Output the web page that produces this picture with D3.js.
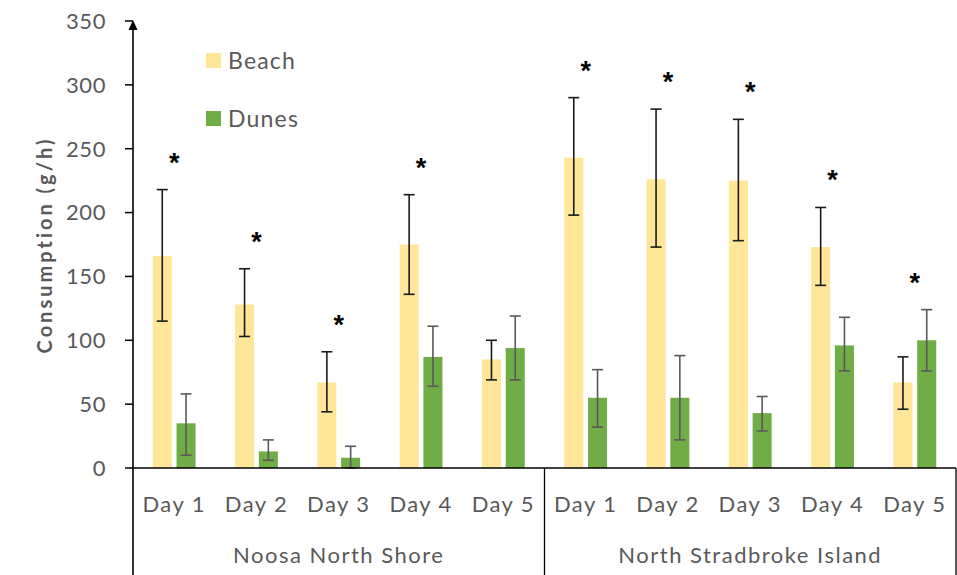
<!DOCTYPE html>
<html>
<head>
<meta charset="utf-8">
<script src="https://cdn.jsdelivr.net/npm/d3@7"></script>
<style>
  body { margin: 0; background: #fff; }
  text { font-family: Lato, "Open Sans", sans-serif; fill: #595959; }
</style>
</head>
<body>
<div id="chart"></div>
<script>
// categories
var sites = ["Noosa North Shore", "North Stradbroke Island"]
var days = ["Day 1", "Day 2", "Day 3", "Day 4", "Day 5"]
var series = ["Beach", "Dunes"]

// mean consumption (g/h), per site then day
var beach = [166, 128, 67, 175, 85, 243, 226, 225, 173, 67]
var dunes = [35, 13, 8, 87, 94, 55, 55, 43, 96, 100]
// error bar ends
var beachHi = [218, 156, 91, 214, 100, 290, 281, 273, 204, 87]
var beachLo = [115, 103, 44, 136, 69, 198, 173, 178, 143, 46]
var dunesHi = [58, 22, 17, 111, 119, 77, 88, 56, 118, 124]
var dunesLo = [10, 6, 0, 64, 69, 32, 22, 29, 76, 76]
// significant difference marker
var signif = [1, 1, 1, 1, 0, 1, 1, 1, 1, 1]

var yTicks = [0, 50, 100, 150, 200, 250, 300, 350]

var width = 957, height = 575
var margin = { top: 21, right: 1, bottom: 107, left: 133 }
var plotW = width - margin.left - margin.right
var plotH = height - margin.top - margin.bottom

var svg = d3.select("#chart")
  .append("svg")
  .attr("width", width)
  .attr("height", height)

var g = svg.append("g")
  .attr("transform", "translate(" + margin.left + "," + margin.top + ")")

// build rows
var rows = []
sites.forEach(function (s, si) {
  days.forEach(function (d, di) {
    var i = si * days.length + di
    rows.push({
      key: s + "|" + d, site: s, day: d,
      Beach: { v: beach[i], hi: beachHi[i], lo: beachLo[i] },
      Dunes: { v: dunes[i], hi: dunesHi[i], lo: dunesLo[i] },
      sig: signif[i]
    })
  })
})

var x = d3.scaleBand()
  .domain(rows.map(function (d) { return d.key }))
  .range([0, plotW])
  .padding(0)

var x1 = d3.scaleBand()
  .domain(series)
  .range([x.bandwidth() * 0.24, x.bandwidth() * 0.76])
  .paddingInner(0.2)

var y = d3.scaleLinear()
  .domain([0, 350])
  .range([plotH, 0])

var color = { Beach: "#FFE699", Dunes: "#70AD47" }
var errColor = { Beach: "#1a1a1a", Dunes: "#595959" }

// bars
var groups = g.selectAll(".grp")
  .data(rows)
  .enter()
  .append("g")
  .attr("class", "grp")
  .attr("transform", function (d) { return "translate(" + x(d.key) + ",0)" })

series.forEach(function (s) {
  groups.append("rect")
    .attr("x", x1(s))
    .attr("width", x1.bandwidth())
    .attr("y", function (d) { return y(d[s].v) })
    .attr("height", function (d) { return y(0) - y(d[s].v) })
    .style("fill", color[s])

  var cx = x1(s) + x1.bandwidth() / 2
  var cap = 5.5
  groups.append("line")
    .attr("x1", cx).attr("x2", cx)
    .attr("y1", function (d) { return y(d[s].hi) })
    .attr("y2", function (d) { return y(d[s].lo) })
    .style("stroke", errColor[s]).style("stroke-width", 1.6)
  groups.append("line")
    .attr("x1", cx - cap).attr("x2", cx + cap)
    .attr("y1", function (d) { return y(d[s].hi) })
    .attr("y2", function (d) { return y(d[s].hi) })
    .style("stroke", errColor[s]).style("stroke-width", 1.6)
  groups.append("line")
    .attr("x1", cx - cap).attr("x2", cx + cap)
    .attr("y1", function (d) { return y(d[s].lo) })
    .attr("y2", function (d) { return y(d[s].lo) })
    .style("stroke", errColor[s]).style("stroke-width", 1.6)
})

// asterisks
groups.filter(function (d) { return d.sig })
  .append("text")
  .attr("x", x.bandwidth() / 2)
  .attr("y", function (d) { return y(Math.max(d.Beach.hi, d.Dunes.hi)) - 18 })
  .attr("text-anchor", "middle")
  .style("font-size", "27px")
  .style("font-weight", "bold")
  .style("font-family", "'Liberation Sans', sans-serif")
  .style("fill", "#000")
  .text("*")

// y axis
var yAxis = g.append("g")
yAxis.selectAll(".tick")
  .data(yTicks)
  .enter()
  .append("line")
  .attr("x1", -8).attr("x2", 0)
  .attr("y1", function (d) { return y(d) })
  .attr("y2", function (d) { return y(d) })
  .style("stroke", "#000").style("stroke-width", 1.5)
yAxis.selectAll(".lbl")
  .data(yTicks)
  .enter()
  .append("text")
  .attr("x", -27)
  .attr("y", function (d) { return y(d) })
  .attr("dy", "0.36em")
  .attr("text-anchor", "end")
  .style("font-size", "22px")
  .style("letter-spacing", "0.6px")
  .text(function (d) { return d })
yAxis.append("line")
  .attr("x1", 0).attr("x2", 0)
  .attr("y1", y(350) + 6).attr("y2", height - margin.top)
  .style("stroke", "#000").style("stroke-width", 1.6)
yAxis.append("path")
  .attr("d", "M0," + (y(350) - 1) + "L-4.5," + (y(350) + 9) + "L4.5," + (y(350) + 9) + "Z")
  .style("fill", "#000")

// x axis
g.append("line")
  .attr("x1", 0).attr("x2", plotW)
  .attr("y1", y(0)).attr("y2", y(0))
  .style("stroke", "#000").style("stroke-width", 1.6)

// site separators
var siteW = x.bandwidth() * days.length
sites.forEach(function (s, si) {
  g.append("line")
    .attr("x1", siteW * (si + 1)).attr("x2", siteW * (si + 1))
    .attr("y1", y(0)).attr("y2", height - margin.top)
    .style("stroke", "#000").style("stroke-width", 1.3)
  g.append("text")
    .attr("x", siteW * si + siteW / 2)
    .attr("y", y(0) + 95)
    .attr("text-anchor", "middle")
    .style("font-size", "22px")
    .style("letter-spacing", "1.5px")
    .text(s)
})

// day labels
g.selectAll(".daylbl")
  .data(rows)
  .enter()
  .append("text")
  .attr("x", function (d) { return x(d.key) + x.bandwidth() / 2 })
  .attr("y", y(0) + 44)
  .attr("text-anchor", "middle")
  .style("font-size", "22px")
  .style("letter-spacing", "1.4px")
  .text(function (d) { return d.day })

// y title
svg.append("text")
  .attr("transform", "translate(52,245) rotate(-90)")
  .attr("text-anchor", "middle")
  .style("font-size", "20px")
  .style("font-weight", "bold")
  .style("letter-spacing", "3px")
  .text("Consumption (g/h)")

// legend
var legend = svg.append("g").attr("transform", "translate(206,53)")
series.forEach(function (s, i) {
  legend.append("rect")
    .attr("x", 0).attr("y", i * 58)
    .attr("width", 15).attr("height", 15)
    .style("fill", color[s])
  legend.append("text")
    .attr("x", 22).attr("y", i * 58 + 8)
    .attr("dy", "0.36em")
    .style("font-size", "23px")
    .style("letter-spacing", "1.2px")
    .text(s)
})
</script>
</body>
</html>
